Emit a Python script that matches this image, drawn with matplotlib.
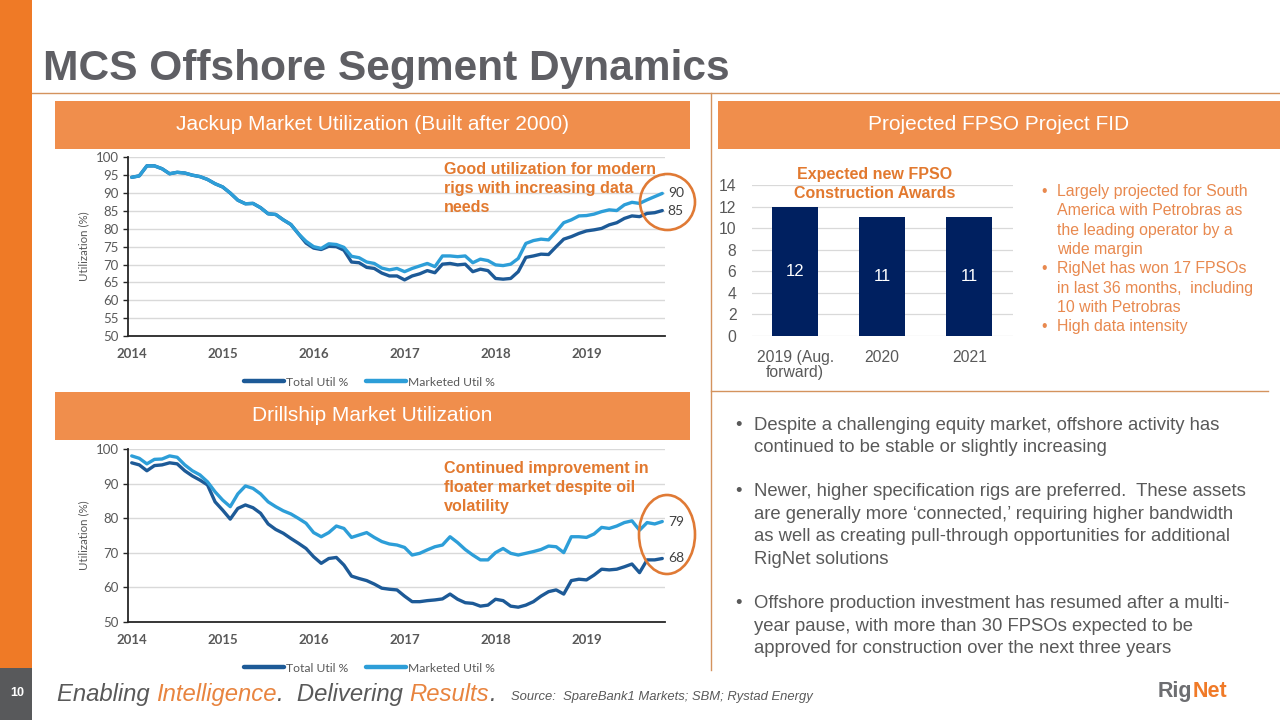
import matplotlib
matplotlib.use("Agg")
import matplotlib.pyplot as plt
from matplotlib.patches import Rectangle, Ellipse
from matplotlib.lines import Line2D
import numpy as np

# ---------------- data ----------------
years = [2014, 2015, 2016, 2017, 2018, 2019]

jackup_marketed = [94.4, 94.8, 97.6, 97.6, 96.8, 95.4, 95.8, 95.6, 95.0, 94.6, 93.8, 92.6,
                   91.7, 90.0, 88.0, 87.0, 87.1, 85.9, 84.2, 84.0, 82.5, 81.2, 78.6, 76.5,
                   75.0, 74.5, 75.8, 75.6, 74.8, 72.3, 71.9, 70.7, 70.3, 69.0, 68.5, 68.9,
                   68.0, 68.9, 69.6, 70.3, 69.4, 72.4, 72.4, 72.2, 72.4, 70.5, 71.5, 71.1,
                   69.9, 69.7, 70.1, 71.7, 75.9, 76.7, 77.1, 76.9, 79.2, 81.7, 82.5, 83.6,
                   83.7, 84.1, 84.8, 85.3, 85.1, 86.7, 87.4, 87.1, 88.1, 89.0, 89.9]
jackup_total = [94.4, 94.8, 97.6, 97.6, 96.8, 95.4, 95.8, 95.6, 95.0, 94.6, 93.8, 92.6,
                91.7, 90.0, 88.0, 87.0, 87.1, 85.9, 84.2, 84.0, 82.5, 81.2, 78.6, 76.0,
                74.6, 74.2, 75.1, 75.0, 74.0, 70.7, 70.5, 69.2, 68.9, 67.6, 66.8, 66.8,
                65.7, 66.8, 67.4, 68.3, 67.7, 70.1, 70.3, 69.9, 70.1, 68.0, 68.7, 68.3,
                66.1, 65.9, 66.1, 68.0, 72.0, 72.4, 72.9, 72.8, 75.0, 77.1, 77.8, 78.7,
                79.4, 79.7, 80.1, 81.1, 81.7, 82.9, 83.6, 83.4, 84.3, 84.5, 85.1]

drill_marketed = [98.0, 97.3, 95.7, 97.0, 97.1, 98.0, 97.6, 95.4, 93.7, 92.5, 90.5, 87.6,
                  85.2, 83.3, 87.0, 89.3, 88.6, 87.0, 84.7, 83.3, 82.1, 81.2, 79.9, 78.5,
                  75.8, 74.6, 75.8, 77.7, 77.0, 74.4, 75.1, 75.8, 74.4, 73.2, 72.5, 72.2,
                  71.5, 69.3, 69.8, 70.8, 71.7, 72.2, 74.6, 72.9, 70.9, 69.3, 67.9, 67.9,
                  70.0, 71.2, 69.8, 69.3, 69.8, 70.3, 70.9, 71.9, 71.7, 70.0, 74.6, 74.6,
                  74.4, 75.4, 77.3, 77.0, 77.7, 78.7, 79.2, 76.5, 78.7, 78.3, 79.0]
drill_total = [96.0, 95.4, 93.7, 95.2, 95.4, 96.0, 95.7, 93.7, 92.2, 91.0, 89.6, 84.7,
               82.3, 79.7, 82.8, 83.8, 83.0, 81.4, 78.3, 76.7, 75.6, 74.1, 72.7, 71.2,
               68.8, 66.9, 68.3, 68.6, 66.4, 63.2, 62.5, 61.9, 60.9, 59.7, 59.4, 59.2,
               57.4, 55.8, 55.8, 56.1, 56.3, 56.6, 58.0, 56.5, 55.5, 55.3, 54.5, 54.8,
               56.5, 56.1, 54.5, 54.2, 54.8, 55.8, 57.4, 58.7, 59.2, 58.0, 61.9, 62.3,
               62.1, 63.5, 65.2, 65.0, 65.2, 65.9, 66.7, 64.2, 67.9, 67.9, 68.3]

fpso_categories = ["2019 (Aug.\nforward)", "2020", "2021"]
fpso_values = [12, 11, 11]

series_labels = ["Total Util %", "Marketed Util %"]

# ---------------- style ----------------
W, H = 1280, 720
ORANGE_BAR = "#EF7A26"
ORANGE_HDR = "#F08E4C"
ORANGE_TXT = "#E2792F"
ORANGE_BUL = "#E8894F"
GRAY_TXT = "#595959"
TITLE_GRAY = "#5F5F64"
LINE_TAN = "#D4935E"
DARK_BLUE = "#1D5A97"
LIGHT_BLUE = "#2D9ED8"
NAVY = "#002060"
GRID = "#D9D9D9"
SLIDE_FONT = ["Liberation Sans", "DejaVu Sans"]
CHART_FONT = ["Lato", "DejaVu Sans"]

fig = plt.figure(figsize=(W / 100, H / 100), dpi=100)
fig.patch.set_facecolor("white")


def fx(x):
    return x / W


def fy(y):
    return 1 - y / H


def add_ax(l, t, r, b):
    return fig.add_axes([l / W, 1 - b / H, (r - l) / W, (b - t) / H])


def rect(x0, y0, x1, y1, color, z=0):
    fig.patches.append(Rectangle((fx(x0), fy(y1)), (x1 - x0) / W, (y1 - y0) / H,
                                 transform=fig.transFigure, facecolor=color,
                                 edgecolor="none", zorder=z))


def hline(x0, x1, y, color=LINE_TAN, lw=1.0):
    fig.lines.append(Line2D([fx(x0), fx(x1)], [fy(y), fy(y)], transform=fig.transFigure,
                            color=color, lw=lw))


def vline(x, y0, y1, color=LINE_TAN, lw=1.0):
    fig.lines.append(Line2D([fx(x), fx(x)], [fy(y0), fy(y1)], transform=fig.transFigure,
                            color=color, lw=lw))


# ---------------- slide frame ----------------
rect(0, 0, 32, 668, ORANGE_BAR)
rect(0, 668, 32, 720, "#58595B")
fig.text(fx(17), fy(693), "10", color="white", fontsize=9, fontweight="bold",
         family=SLIDE_FONT, ha="center", va="center")

fig.text(fx(43), fy(80), "MCS Offshore Segment Dynamics", fontsize=30.6, fontweight="bold",
         color=TITLE_GRAY, family=SLIDE_FONT, ha="left", va="baseline")

hline(32, 1280, 92.5)
vline(711, 92.5, 670)
hline(711, 1268, 391)

# header boxes
rect(55, 101, 690, 149, ORANGE_HDR)
rect(718, 101, 1280, 149, ORANGE_HDR)
rect(55, 392, 690, 440, ORANGE_HDR)
fig.text(fx(372.5), fy(125), "Jackup Market Utilization (Built after 2000)", color="white",
         fontsize=15, family=SLIDE_FONT, ha="center", va="center")
fig.text(fx(999), fy(125), "Projected FPSO Project FID", color="white",
         fontsize=15, family=SLIDE_FONT, ha="center", va="center")
fig.text(fx(372.5), fy(416), "Drillship Market Utilization", color="white",
         fontsize=15, family=SLIDE_FONT, ha="center", va="center")


# ---------------- line charts ----------------
def line_chart(top, bottom, total, marketed, ymin, ystep, note, note_y, ell, legend_y):
    ax = add_ax(128, top, 665, bottom)
    n = len(total)
    t = 2014 + np.arange(n) / 12.0
    ax.plot(t, total, color=DARK_BLUE, lw=2.4, label=series_labels[0], solid_capstyle="round",
            zorder=3)
    ax.plot(t, marketed, color=LIGHT_BLUE, lw=2.4, label=series_labels[1],
            solid_capstyle="round", zorder=4)
    ax.set_ylim(ymin, 100)
    ax.set_yticks(np.arange(ymin, 100.1, ystep))
    ax.set_xlim(2014 - 0.49 / 12, 2014 + 70.36 / 12)
    ax.set_xticks(years)
    ax.set_xticklabels([str(y) for y in years], fontweight="bold", family=CHART_FONT,
                       fontsize=9.5, color=GRAY_TXT)
    for lab in ax.get_yticklabels():
        lab.set_family(CHART_FONT)
        lab.set_fontsize(9.5)
        lab.set_color(GRAY_TXT)
    ax.grid(axis="y", color=GRID, lw=1.0, zorder=0)
    ax.set_axisbelow(True)
    for s in ["top", "right"]:
        ax.spines[s].set_visible(False)
    for s in ["left", "bottom"]:
        ax.spines[s].set_color("#262626")
        ax.spines[s].set_linewidth(1.3)
    ax.tick_params(axis="y", length=3.5, width=1.0, color="#262626", pad=3)
    ax.tick_params(axis="x", length=0, pad=9)
    ax.set_ylabel("Utilization (%)", family=CHART_FONT, fontsize=8.3, color=GRAY_TXT,
                  labelpad=5)
    ax.patch.set_alpha(0)
    # end value labels
    for series in (total, marketed):
        ax.annotate(f"{round(series[-1])}", xy=(t[-1], series[-1]), xytext=(4, 0),
                    textcoords="offset points", va="center", ha="left", fontsize=10,
                    family=CHART_FONT, color="#404040", annotation_clip=False)
    # annotation text
    for k, line in enumerate(note):
        fig.text(fx(444), fy(note_y + 18.5 * k), line, color=ORANGE_TXT, fontsize=11.6,
                 fontweight="bold", family=SLIDE_FONT, ha="left", va="center")
    cx, cy, w, h = ell
    fig.patches.append(Ellipse((fx(cx), fy(cy)), w / W, h / H, transform=fig.transFigure,
                               fill=False, edgecolor="#E07A35", lw=1.9, zorder=10))
    leg = ax.legend(loc="center", bbox_to_anchor=(fx(369.5), fy(legend_y)),
                    bbox_transform=fig.transFigure, ncol=2, frameon=False,
                    handlelength=3.3, handletextpad=0.15, columnspacing=1.5,
                    prop={"family": CHART_FONT, "size": 8.7})
    for txt in leg.get_texts():
        txt.set_color(GRAY_TXT)
    for h_ in leg.legend_handles:
        h_.set_linewidth(3.2)
    return ax


line_chart(157.3, 336, jackup_total, jackup_marketed, 50, 5,
           ["Good utilization for modern", "rigs with increasing data", "needs"], 170,
           (667.5, 202, 55, 56), 382)
line_chart(449, 621.7, drill_total, drill_marketed, 50, 10,
           ["Continued improvement in", "floater market despite oil", "volatility"], 469,
           (667, 534.5, 56, 79), 668)

# ---------------- FPSO bar chart ----------------
axb = add_ax(751.7, 185, 1012.7, 336)
xpos = np.arange(len(fpso_values))
bars = axb.bar(xpos, fpso_values, width=0.53, color=NAVY, zorder=3)
for b, v in zip(bars, fpso_values):
    axb.text(b.get_x() + b.get_width() / 2, v / 2, str(v), color="white", ha="center",
             va="center", fontsize=12, family=SLIDE_FONT)
axb.set_xlim(-0.5, 2.5)
axb.set_ylim(0, 14)
axb.set_yticks(np.arange(0, 15, 2))
axb.set_xticks(xpos)
axb.set_xticklabels(fpso_categories, family=SLIDE_FONT, fontsize=11.3, color=GRAY_TXT,
                    linespacing=1.05)
for lab in axb.get_yticklabels():
    lab.set_family(SLIDE_FONT)
    lab.set_fontsize(11.3)
    lab.set_color(GRAY_TXT)
axb.tick_params(axis="y", length=0, pad=11)
axb.tick_params(axis="x", length=0, pad=10)
axb.grid(axis="y", color=GRID, lw=0.9, zorder=0)
axb.set_axisbelow(True)
for s in axb.spines.values():
    s.set_visible(False)
axb.patch.set_alpha(0)
fig.text(fx(875), fy(175), "Expected new FPSO", color=ORANGE_TXT, fontsize=11.5,
         fontweight="bold", family=SLIDE_FONT, ha="center", va="center")
fig.text(fx(875), fy(193.3), "Construction Awards", color=ORANGE_TXT, fontsize=11.5,
         fontweight="bold", family=SLIDE_FONT, ha="center", va="center")

# right bullets (orange)
fpso_lines = [(True, "Largely projected for South"), (False, "America with Petrobras as"),
              (False, "the leading operator by a"), (False, "wide margin"),
              (True, "RigNet has won 17 FPSOs"), (False, "in last 36 months,  including"),
              (False, "10 with Petrobras"), (True, "High data intensity")]
for k, (bul, line) in enumerate(fpso_lines):
    y = 191.7 + 19.28 * k
    if bul:
        fig.text(fx(1041), fy(y), "\u2022", color=ORANGE_BUL, fontsize=11.4,
                 family=SLIDE_FONT, ha="left", va="center")
    fig.text(fx(1057), fy(y), line, color=ORANGE_BUL, fontsize=11.4, family=SLIDE_FONT,
             ha="left", va="center")

# lower right bullets (gray)
body = [(425, True, "Despite a challenging equity market, offshore activity has"),
        (447.3, False, "continued to be stable or slightly increasing"),
        (491.7, True, "Newer, higher specification rigs are preferred.  These assets"),
        (514.3, False, "are generally more \u2018connected,\u2019 requiring higher bandwidth"),
        (536.7, False, "as well as creating pull-through opportunities for additional"),
        (559.3, False, "RigNet solutions"),
        (604, True, "Offshore production investment has resumed after a multi-"),
        (626.7, False, "year pause, with more than 30 FPSOs expected to be"),
        (648.3, False, "approved for construction over the next three years")]
for y, bul, line in body:
    if bul:
        fig.text(fx(735), fy(y), "\u2022", color=GRAY_TXT, fontsize=13.3,
                 family=SLIDE_FONT, ha="left", va="center")
    fig.text(fx(753.5), fy(y), line, color=GRAY_TXT, fontsize=13.3, family=SLIDE_FONT,
             ha="left", va="center")

# ---------------- footer ----------------
renderer = fig.canvas.get_renderer()
xcur = 57
for piece, col in [("Enabling ", GRAY_TXT), ("Intelligence", "#E8843F"),
                   (".  Delivering ", GRAY_TXT), ("Results", "#E8843F"), (".", GRAY_TXT)]:
    tt = fig.text(fx(xcur), fy(701), piece, color=col, fontsize=17.2, style="italic",
                  family=SLIDE_FONT, ha="left", va="baseline")
    xcur += tt.get_window_extent(renderer).width
fig.text(fx(511), fy(700), "Source:  SpareBank1 Markets; SBM; Rystad Energy", color=GRAY_TXT,
         fontsize=9.4, style="italic", family=SLIDE_FONT, ha="left", va="baseline")

xcur = 1158
for piece, col in [("Rig", "#6D6E71"), ("Net", "#F07A28")]:
    tt = fig.text(fx(xcur), fy(697), piece, color=col, fontsize=15.5, fontweight="bold",
                  family=SLIDE_FONT, ha="left", va="baseline")
    xcur += tt.get_window_extent(renderer).width + 0.5

fig.savefig("out.png", dpi=100, facecolor="white")
